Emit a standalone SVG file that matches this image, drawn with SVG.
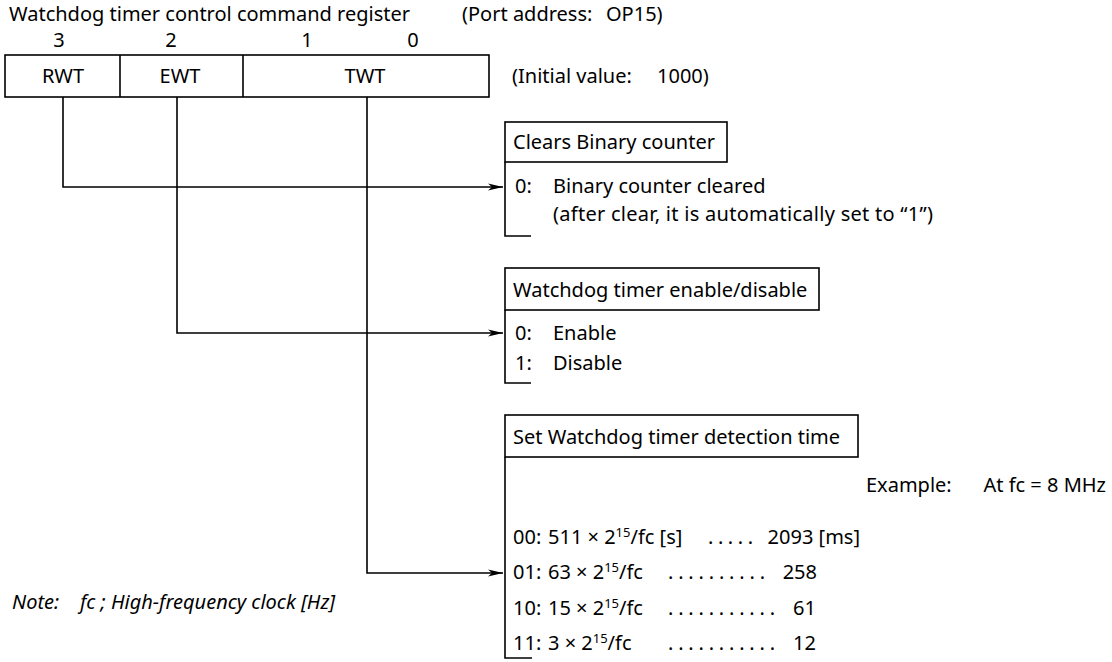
<svg xmlns="http://www.w3.org/2000/svg" width="1112" height="662" viewBox="0 0 1112 662">
<style>
text{font-family:"Noto Sans","DejaVu Sans",sans-serif;font-size:20px;fill:#000}
.ln{fill:none;stroke:#000;stroke-width:1.6}
.it{font-style:italic}
.m{text-anchor:middle}
.e{text-anchor:end}
.sup{font-size:13px}
</style>
<defs>
<marker id="arr" viewBox="0 0 15 10" refX="15" refY="5" markerWidth="15" markerHeight="10" markerUnits="userSpaceOnUse" orient="auto">
<path d="M0,1.5 L15,5 L0,8.5 L4,5 Z" fill="#000"/>
</marker>
</defs>
<rect width="1112" height="662" fill="#fff"/>
<g id="title">
<text x="9" y="21">Watchdog timer control command register</text>
<text x="462" y="21">(Port address:</text>
<text x="606" y="21">OP15)</text>
</g>
<g id="register">
<text x="59" y="47" class="m">3</text>
<text x="171" y="47" class="m">2</text>
<text x="307" y="47" class="m">1</text>
<text x="413" y="47" class="m">0</text>
<rect x="5" y="55" width="484" height="42" class="ln"/>
<line x1="120" y1="55" x2="120" y2="97" class="ln"/>
<line x1="243" y1="55" x2="243" y2="97" class="ln"/>
<text x="63" y="83" class="m">RWT</text>
<text x="180" y="83" class="m">EWT</text>
<text x="365" y="83" class="m">TWT</text>
<text x="512" y="83">(Initial value:</text>
<text x="657" y="83">1000)</text>
</g>
<g id="connectors">
<path d="M63,97 V187 H503" class="ln" marker-end="url(#arr)"/>
<path d="M177,97 V333 H503" class="ln" marker-end="url(#arr)"/>
<path d="M367,97 V573 H503" class="ln" marker-end="url(#arr)"/>
</g>
<g id="rwt-box">
<rect x="505" y="122" width="222" height="40" class="ln"/>
<path d="M505,162 V236 H531" class="ln"/>
<text x="513" y="149">Clears Binary counter</text>
<text x="515" y="193">0:</text>
<text x="553" y="193">Binary counter cleared</text>
<text x="553" y="221" textLength="380">(after clear, it is automatically set to “1”)</text>
</g>
<g id="ewt-box">
<rect x="505" y="268" width="314" height="42" class="ln"/>
<path d="M505,310 V383 H531" class="ln"/>
<text x="513" y="297">Watchdog timer enable/disable</text>
<text x="515" y="340">0:</text>
<text x="553" y="340">Enable</text>
<text x="515" y="370">1:</text>
<text x="553" y="370">Disable</text>
</g>
<g id="twt-box">
<rect x="505" y="415" width="353" height="42" class="ln"/>
<path d="M505,457 V658 H532" class="ln"/>
<text x="513" y="444">Set Watchdog timer detection time</text>
<text x="866" y="492">Example:</text>
<text x="1106" y="492" class="e">At  fc = 8 MHz</text>
<text x="513" y="544">00:</text>
<text x="548" y="544">511 × 2<tspan class="sup" dy="-7">15</tspan><tspan dy="7">/fc [s]</tspan></text>
<text x="708" y="544" textLength="45">.....</text>
<text x="860" y="544" class="e">2093 [ms]</text>
<text x="513" y="579">01:</text>
<text x="548" y="579">63 × 2<tspan class="sup" dy="-7">15</tspan><tspan dy="7">/fc</tspan></text>
<text x="668" y="579" textLength="97">..........</text>
<text x="817" y="579" class="e">258</text>
<text x="513" y="615">10:</text>
<text x="548" y="615">15 × 2<tspan class="sup" dy="-7">15</tspan><tspan dy="7">/fc</tspan></text>
<text x="668" y="615" textLength="107">...........</text>
<text x="816" y="615" class="e">61</text>
<text x="513" y="650">11:</text>
<text x="548" y="650">3 × 2<tspan class="sup" dy="-7">15</tspan><tspan dy="7">/fc</tspan></text>
<text x="668" y="650" textLength="107">...........</text>
<text x="816" y="650" class="e">12</text>
</g>
<g id="note">
<text x="12" y="609" class="it">Note:</text>
<text x="80" y="609" class="it">fc ; High-frequency clock [Hz]</text>
</g>
</svg>
